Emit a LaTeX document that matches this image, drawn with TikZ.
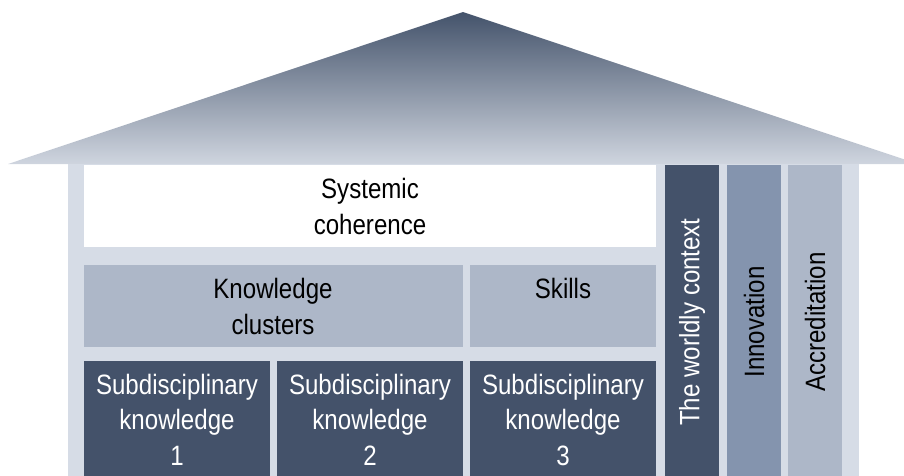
\documentclass[tikz,border=0pt]{standalone}
\usepackage{fontspec}
\setmainfont[FakeStretch=0.86]{Liberation Sans}
\definecolor{cdark}{HTML}{44526A}
\definecolor{cmid}{HTML}{8494AE}
\definecolor{clight}{HTML}{ADB7C8}
\definecolor{cbody}{HTML}{D6DCE6}
\definecolor{rooftop}{HTML}{44536B}
\definecolor{roofbot}{HTML}{CFD5DF}
\tikzset{
  lbl/.style={font=\fontsize{28}{35.5}\selectfont, align=center, inner sep=0pt},
  wlbl/.style={lbl, text=white},
  vlbl/.style={lbl, rotate=90},
}
\begin{document}
\begin{tikzpicture}[x=1pt,y=-1pt]
\useasboundingbox (0,0) rectangle (904,475);
\clip (0,0) rectangle (904,475);
% roof
\shade[top color=rooftop, bottom color=roofbot] (8,164) -- (463,12) -- (918,164) -- cycle;
% body
\fill[cbody] (68,164) rectangle (859,476);
% boxes
\fill[white] (84,165) rectangle (656,247);
\fill[clight] (84,265) rectangle (463,347);
\fill[clight] (470,265) rectangle (656,347);
\fill[cdark] (84,361) rectangle (270,476);
\fill[cdark] (277,361) rectangle (463,476);
\fill[cdark] (470,361) rectangle (656,476);
\fill[cdark] (665,165) rectangle (719,476);
\fill[cmid] (727,165) rectangle (781,476);
\fill[clight] (788,165) rectangle (842,476);
% labels (base = baseline of last line)
\node[lbl, anchor=base] (sys) at (370,234) {Systemic\\coherence};
\node[lbl, anchor=base] (kc) at (273,334) {Knowledge\\clusters};
\node[lbl, anchor=base] (sk) at (563,298) {Skills};
\node[wlbl, anchor=base] (s1) at (177,465) {Subdisciplinary\\knowledge\\1};
\node[wlbl, anchor=base] (s2) at (370,465) {Subdisciplinary\\knowledge\\2};
\node[wlbl, anchor=base] (s3) at (563,465) {Subdisciplinary\\knowledge\\3};
\node[vlbl, text=white] (wc) at (692,322) {The worldly context};
\node[vlbl] (inn) at (754,322) {Innovation};
\node[vlbl] (acc) at (815,322) {Accreditation};
\end{tikzpicture}
\end{document}
